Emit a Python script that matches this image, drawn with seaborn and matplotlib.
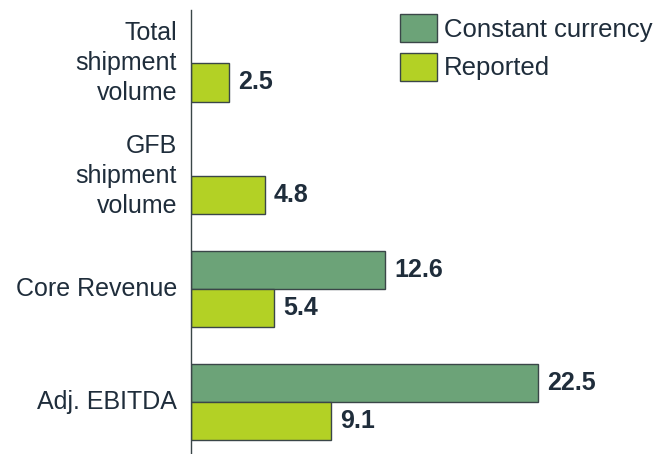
import matplotlib
matplotlib.use("Agg")
import matplotlib.pyplot as plt
import seaborn as sns
import pandas as pd
import numpy as np

# data
metrics = ["Total\nshipment\nvolume", "GFB\nshipment\nvolume", "Core Revenue", "Adj. EBITDA"]
constant_currency = [np.nan, np.nan, 12.6, 22.5]
reported = [2.5, 4.8, 5.4, 9.1]
series = ["Constant currency", "Reported"]
colors = ["#6ca378", "#b3d125"]

text_color = "#1f2d3b"
edge_color = "#3a4648"

df = pd.DataFrame({
    "metric": metrics * 2,
    "value": constant_currency + reported,
    "series": [series[0]] * len(metrics) + [series[1]] * len(metrics),
})

sns.set_theme(style="white")
plt.rcParams["font.family"] = ["Liberation Sans", "DejaVu Sans"]

fig = plt.figure(figsize=(6.65, 4.54), dpi=100)
ax = fig.add_axes([0.287, 0.0, 0.696, 0.978])

sns.barplot(data=df, y="metric", x="value", hue="series", orient="h",
            order=metrics, hue_order=series, palette=colors, width=0.68,
            saturation=1, edgecolor=edge_color, linewidth=1.0, ax=ax)

for c in ax.containers:
    ax.bar_label(c, fmt="%.1f", padding=6.5, fontsize=18, fontweight="bold", color=text_color)

ax.set_xlim(0, 30)
ax.set_ylim(3.46, -0.47)
ax.set_xlabel("")
ax.set_ylabel("")
ax.set_xticks([])
ax.tick_params(axis="y", length=0, pad=10, labelsize=18, labelcolor=text_color)
for lab in ax.get_yticklabels():
    lab.set_horizontalalignment("right")
    lab.set_verticalalignment("center")
    lab.set_multialignment("right")
    lab.set_linespacing(1.3)

for s in ["top", "right", "bottom"]:
    ax.spines[s].set_visible(False)
ax.spines["left"].set_color(edge_color)
ax.spines["left"].set_linewidth(1.0)

leg = ax.legend(loc="upper left", bbox_to_anchor=(400 / 665, 1 - 14 / 454),
                bbox_transform=fig.transFigure, frameon=False, fontsize=18.5,
                handlelength=1.45, handleheight=1.3, handletextpad=0.25, labelspacing=0.42,
                borderpad=0, borderaxespad=0)
for t in leg.get_texts():
    t.set_color(text_color)

fig.savefig("out.png", dpi=100)
